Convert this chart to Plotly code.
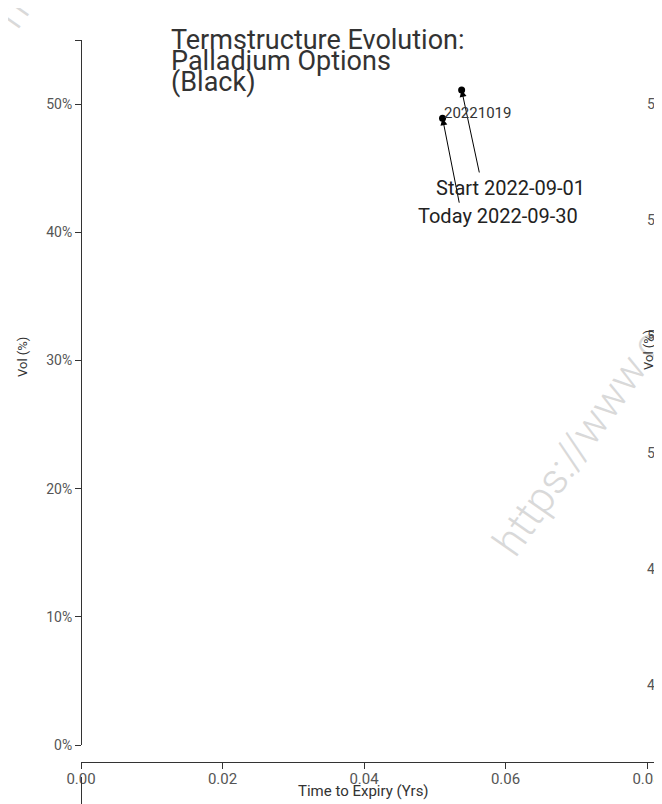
import plotly.graph_objects as go

# ---------------- data ----------------
SERIES_NAMES = ["Start 2022-09-01", "Today 2022-09-30"]
EXPIRY_LABEL = "20221019"
TTE_YRS = [0.0538, 0.0511]          # time to expiry (years)
VOLS = [0.511, 0.489]               # implied vol
X_TICKS = [0.0, 0.02, 0.04, 0.06, 0.08]
X_TICK_TEXT = ["0.00", "0.02", "0.04", "0.06", "0.08"]
Y_TICKS = [0.0, 0.1, 0.2, 0.3, 0.4, 0.5, 0.55]
Y_TICK_TEXT = ["0%", "10%", "20%", "30%", "40%", "50%", ""]
RIGHT_TICKS = [0.48, 0.49, 0.50, 0.51, 0.52, 0.53]
RIGHT_TICK_TEXT = ["48%", "49%", "50%", "51%", "52%", "53%"]
TITLE_LINES = ["Termstructure Evolution:", "Palladium Options", "(Black)"]
X_TITLE = "Time to Expiry (Yrs)"
Y_TITLE = "Vol (%)"
WATERMARK = "https://www.c"

# ---------------- layout helpers ----------------
PAGE_W, PAGE_H = 662, 804
OFF = 8  # page body margin offset
W, H = PAGE_W - OFF, PAGE_H - OFF
FONT = "Roboto"
AX = "#333333"
TICKC = "#555555"


def px(x):
    return (x - OFF) / W


def py(y):
    return 1 - (y - OFF) / H


fig = go.Figure()

fig.add_trace(go.Scatter(x=[TTE_YRS[0]], y=[VOLS[0]], mode="markers",
                         marker=dict(color="black", size=7),
                         name=SERIES_NAMES[0], showlegend=False,
                         hoverinfo="skip", cliponaxis=False))
fig.add_trace(go.Scatter(x=[TTE_YRS[1]], y=[VOLS[1]], mode="markers",
                         marker=dict(color="black", size=7),
                         name=SERIES_NAMES[1], showlegend=False,
                         hoverinfo="skip", cliponaxis=False))
fig.add_trace(go.Scatter(x=[], y=[], yaxis="y2", showlegend=False))
fig.add_trace(go.Scatter(x=[], y=[], xaxis="x3", yaxis="y3", showlegend=False))

X0 = 81
X_PER = 0.02 / 141.5
x_range = [0, (PAGE_W - X0) * X_PER]

fig.update_layout(
    width=W, height=H,
    margin=dict(l=0, r=0, t=0, b=0),
    paper_bgcolor="white", plot_bgcolor="white",
    font=dict(family=FONT, color="#333"),
    showlegend=False,
    xaxis=dict(domain=[px(X0), 1], range=x_range, anchor="free",
               position=py(762), showgrid=False, zeroline=False,
               showline=True, linecolor=AX, linewidth=1,
               ticks="outside", ticklen=6, tickcolor=AX,
               tickvals=X_TICKS, ticktext=X_TICK_TEXT,
               tickfont=dict(size=15, color=TICKC, family=FONT),
               ticklabelstandoff=-3, automargin=False),
    yaxis=dict(domain=[py(745), py(40)], range=[0, 0.55], anchor="free",
               position=px(X0), showgrid=False, zeroline=False,
               showline=True, linecolor=AX, linewidth=1,
               ticks="outside", ticklen=6, tickcolor=AX,
               tickvals=Y_TICKS, ticktext=Y_TICK_TEXT,
               tickfont=dict(size=14, color=TICKC, family=FONT),
               automargin=False),
    yaxis2=dict(overlaying="y", side="right", anchor="free",
                position=px(646), range=[0.47484, 0.53551],
                showgrid=False, zeroline=False, showline=False,
                ticks="", tickvals=RIGHT_TICKS, ticktext=RIGHT_TICK_TEXT,
                tickfont=dict(size=14, color=TICKC, family=FONT),
                automargin=False),
    xaxis3=dict(domain=[px(X0), 1], anchor="y3", visible=False,
                range=[0, 1]),
    yaxis3=dict(domain=[0, py(777)], anchor="free", position=px(X0),
                range=[0, 1], showgrid=False, zeroline=False,
                showline=True, linecolor=AX, linewidth=1,
                showticklabels=False, ticks="", automargin=False),
)

ann = []
# watermark (two tiles)
for cx, cy in [(578, 443), (80, -85)]:
    ann.append(dict(xref="paper", yref="paper", x=px(cx), y=py(cy),
                    text=WATERMARK, showarrow=False, textangle=-55,
                    xanchor="center", yanchor="middle",
                    font=dict(family=FONT, size=43, color="#d9d9d9",
                              weight=300)))

# title lines
for line, cy in zip(TITLE_LINES, [40, 61, 82]):
    ann.append(dict(xref="paper", yref="paper", x=px(170), y=py(cy),
                    text=line, showarrow=False, xanchor="left",
                    yanchor="middle", borderpad=0,
                    font=dict(family=FONT, size=27, color="#333")))

# axis titles
ann.append(dict(xref="paper", yref="paper", x=px(363), y=py(791),
                text=X_TITLE, showarrow=False, xanchor="center",
                yanchor="middle", font=dict(family=FONT, size=15, color="#333")))
ann.append(dict(xref="paper", yref="paper", x=px(22), y=py(357),
                text=Y_TITLE, showarrow=False, textangle=-90,
                xanchor="center", yanchor="middle",
                font=dict(family=FONT, size=13, color="#333")))
ann.append(dict(xref="paper", yref="paper", x=px(649), y=py(350),
                text=Y_TITLE, showarrow=False, textangle=-90,
                xanchor="center", yanchor="middle",
                font=dict(family=FONT, size=13, color="#333")))

# arrows to points
for xv, yv, axo, ayo in [(TTE_YRS[0], VOLS[0], 18, 84),
                         (TTE_YRS[1], VOLS[1], 17, 86)]:
    ann.append(dict(x=xv, y=yv, xref="x", yref="y", text="",
                    showarrow=True, ax=axo, ay=ayo, arrowhead=2,
                    arrowsize=1.4, arrowwidth=1, arrowcolor="black",
                    standoff=0))

# series labels
ann.append(dict(x=TTE_YRS[0], y=VOLS[0], xref="x", yref="y",
                text=SERIES_NAMES[0], showarrow=False, xshift=48.5,
                yshift=-98, xanchor="center", yanchor="middle",
                font=dict(family=FONT, size=20, color="#222")))
ann.append(dict(x=TTE_YRS[1], y=VOLS[1], xref="x", yref="y",
                text=SERIES_NAMES[1], showarrow=False, xshift=55.5,
                yshift=-97.5, xanchor="center", yanchor="middle",
                font=dict(family=FONT, size=20, color="#222")))
# expiry label
ann.append(dict(x=TTE_YRS[1], y=VOLS[1], xref="x", yref="y",
                text=EXPIRY_LABEL, showarrow=False, xanchor="left",
                yanchor="middle", xshift=0, yshift=5, borderpad=0,
                font=dict(family=FONT, size=15, color="#333")))

fig.update_layout(annotations=ann)

fig.write_html("out.html")
